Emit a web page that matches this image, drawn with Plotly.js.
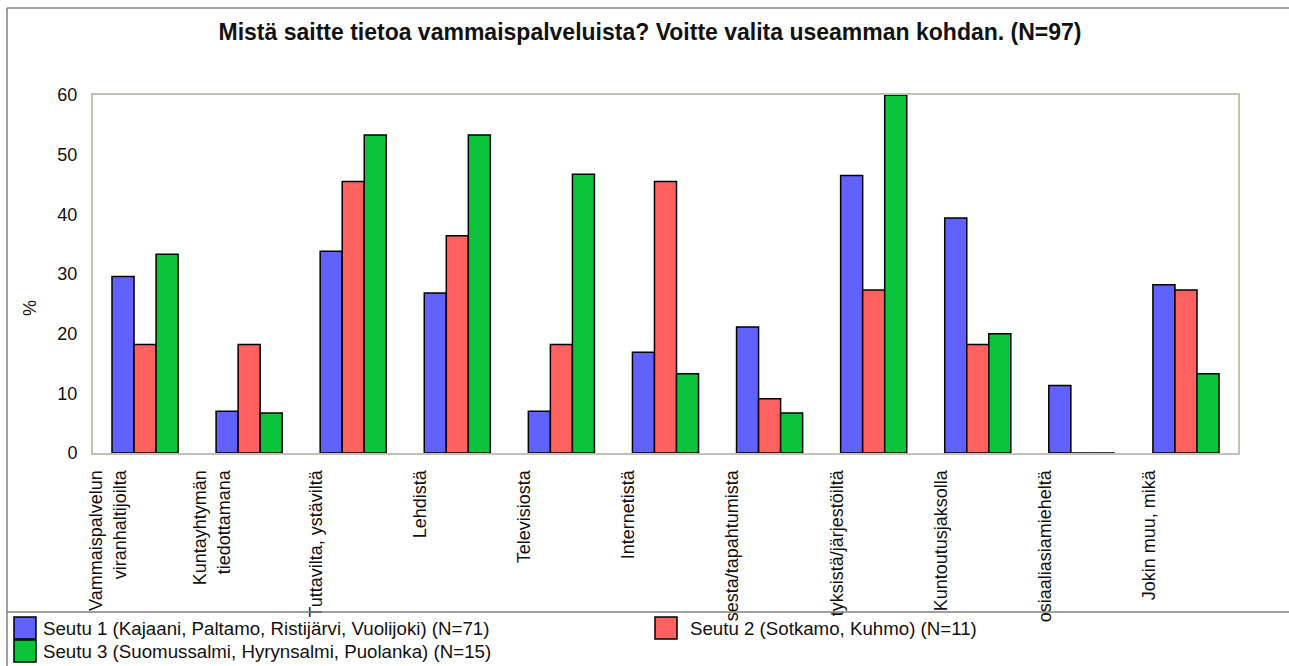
<!DOCTYPE html>
<html>
<head>
<meta charset="utf-8">
<script src="https://cdn.plot.ly/plotly-3.0.1.min.js"></script>
<style>html,body{margin:0;padding:0;background:#fff;}#chart{width:1289px;height:666px;}</style>
</head>
<body>
<div id="chart"></div>
<script>
const categories = [
  "Vammaispalvelun<br>viranhaltijoilta",
  "Kuntayhtymän<br>tiedottamana",
  "Tuttavilta, ystäviltä",
  "Lehdistä",
  "Televisiosta",
  "Internetistä",
  "sesta/tapahtumista",
  "tyksistä/järjestöiltä",
  "Kuntoutusjaksolla",
  "osiaaliasiamieheltä",
  "Jokin muu, mikä"
];
const seriesNames = [
  "Seutu 1 (Kajaani, Paltamo, Ristijärvi, Vuolijoki) (N=71)",
  "Seutu 2 (Sotkamo, Kuhmo) (N=11)",
  "Seutu 3 (Suomussalmi, Hyrynsalmi, Puolanka) (N=15)"
];
const seutu1 = [29.6, 7.0, 33.8, 26.8, 7.0, 16.9, 21.1, 46.5, 39.4, 11.3, 28.2];
const seutu2 = [18.2, 18.2, 45.5, 36.4, 18.2, 45.5, 9.1, 27.3, 18.2, 0, 27.3];
const seutu3 = [33.3, 6.7, 53.3, 53.3, 46.7, 13.3, 6.7, 60.0, 20.0, 0, 13.3];
const yTicks = [0, 10, 20, 30, 40, 50, 60];
const titleText = "Mistä saitte tietoa vammaispalveluista? Voitte valita useamman kohdan. (N=97)";
const yTitle = "%";

const colors = ["#6161ff", "#ff6161", "#0cc43c"];
const seriesValues = [seutu1, seutu2, seutu3];
const FONT = "Liberation Sans, Arial, sans-serif";
const FS = 18;

// plot area in pixels
const W = 1289, H = 666;
const L = 93, R = 1238, T = 95, B = 453;
const px = x => (x - L) / (R - L);
const py = y => (B - y) / (B - T);

const traces = seriesValues.map((vals, i) => ({
  type: "bar",
  name: seriesNames[i],
  x: categories,
  y: vals,
  marker: {color: colors[i], line: {color: "#000", width: 1.5}},
  showlegend: false,
  hoverinfo: "x+y"
}));

const shapes = [
  {type: "line", xref: "paper", yref: "paper", x0: px(7), x1: px(7), y0: py(8), y1: py(666), line: {color: "#808080", width: 1.5}},
  {type: "line", xref: "paper", yref: "paper", x0: px(7), x1: px(1289), y0: py(8), y1: py(8), line: {color: "#808080", width: 1.5}},
  {type: "line", xref: "paper", yref: "paper", x0: px(7), x1: px(1289), y0: py(612), y1: py(612), line: {color: "#808080", width: 1.5}}
];
const annotations = [
  {xref: "paper", yref: "paper", x: px(30), y: py(308), xanchor: "center", yanchor: "middle",
   showarrow: false, textangle: -90, text: yTitle, font: {family: FONT, size: FS, color: "#111"}}
];
const legendPos = [
  {bx: 14, by: 617, tx: 41, ty: 628},
  {bx: 655, by: 617, tx: 688, ty: 628},
  {bx: 14, by: 640, tx: 41, ty: 651}
];
legendPos.forEach((p, i) => {
  shapes.push({type: "rect", xref: "paper", yref: "paper",
    x0: px(p.bx), x1: px(p.bx + 22), y0: py(p.by), y1: py(p.by + 22),
    fillcolor: colors[i], line: {color: "#000", width: 1.5}});
  annotations.push({xref: "paper", yref: "paper", x: px(p.tx), y: py(p.ty),
    xanchor: "left", yanchor: "middle", showarrow: false, text: seriesNames[i],
    font: {family: FONT, size: 18.7, color: "#111"}});
});

const layout = {
  width: W, height: H,
  margin: {l: L, r: W - R, t: T, b: H - B, pad: 0},
  paper_bgcolor: "#fff",
  plot_bgcolor: "#fff",
  font: {family: FONT, size: FS, color: "#111"},
  title: {text: "<b>" + titleText + "</b>", x: 650 / W, xref: "container", xanchor: "center",
          y: 1 - 32 / H, yanchor: "middle", font: {family: FONT, size: 23, color: "#111"}},
  barmode: "group",
  bargap: 0.365,
  bargroupgap: 0,
  xaxis: {
    type: "category",
    tickangle: -90,
    showline: true, mirror: true, linecolor: "#c4c0b4", linewidth: 2,
    showgrid: false, ticks: "", automargin: false,
    ticklabelshift: -37, ticklabelstandoff: 8,
    tickfont: {family: FONT, size: FS, color: "#111"}
  },
  yaxis: {
    range: [0, 60], tickvals: yTicks, ticktext: yTicks.map(String),
    showline: true, mirror: true, linecolor: "#c4c0b4", linewidth: 2,
    showgrid: false, zeroline: false, ticks: "", automargin: false,
    ticklabelstandoff: 10,
    tickfont: {family: FONT, size: FS, color: "#111"}
  },
  shapes: shapes,
  annotations: annotations
};

Plotly.newPlot("chart", traces, layout, {displayModeBar: false, staticPlot: true});
</script>
</body>
</html>
